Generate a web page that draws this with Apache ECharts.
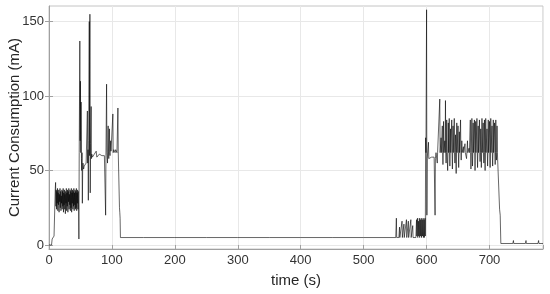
<!DOCTYPE html>
<html>
<head>
<meta charset="utf-8">
<script src="https://cdn.jsdelivr.net/npm/echarts@6/dist/echarts.min.js"></script>
<style>
html, body { margin: 0; padding: 0; background: #fff; }
#chart { width: 550px; height: 294px; }
</style>
</head>
<body>
<div id="chart"></div>
<script>
// [time (s), current (mA)], one list per phase
const wakeUp = [
    [0, 0], [4, 0], [5, 4], [7, 5], [8, 6], [9, 5], [10, 38], [10.5, 42]
];
const firstBurst = [
    [11, 26], [11.5, 37], [12, 24], [12.5, 36], [13, 28], [13.5, 38], [14, 23], [14.5, 35],
    [15, 27], [15.5, 37], [16, 22], [16.5, 34], [17, 29], [17.5, 38], [18, 25], [18.5, 36],
    [19, 23], [19.5, 33], [20, 28], [20.5, 37], [21, 24], [21.5, 36], [22, 26], [22.5, 38],
    [23, 22], [23.5, 35], [24, 27], [24.5, 37], [25, 24], [25.5, 34], [26, 21], [26.5, 36],
    [27, 28], [27.5, 38], [28, 23], [28.5, 35], [29, 26], [29.5, 37], [30, 22], [30.5, 36],
    [31, 29], [31.5, 38], [32, 24], [32.5, 34], [33, 27], [33.5, 37], [34, 23], [34.5, 36],
    [35, 25], [35.5, 38], [36, 22], [36.5, 35], [37, 28], [37.5, 37], [38, 24], [38.5, 36],
    [39, 26], [39.5, 38], [40, 23], [40.5, 35], [41, 27], [41.5, 37], [42, 24], [42.5, 36],
    [43, 25], [43.5, 38], [44, 23], [44.5, 35], [45, 28], [45.5, 37], [46, 24], [46.5, 36],
    [47, 27]
];
const firstActive = [
    [47.5, 4], [48, 62], [49, 137], [49.5, 70], [50, 110], [50.5, 62], [51, 96], [51.5, 58],
    [52, 50], [52.5, 62], [53, 28], [53.5, 50], [54, 55], [55, 51], [56, 53], [57, 54],
    [58, 52], [59, 55], [60, 54], [61, 90], [61.5, 55], [62, 64], [62.5, 30], [63, 70],
    [64, 150], [64.5, 60], [65, 155], [65.5, 35], [66, 68], [67, 93], [67.5, 58], [68, 61],
    [69, 59], [70, 60], [72, 61], [74, 60], [75, 63], [76, 59], [78, 60], [80, 61],
    [82, 60], [84, 60], [86, 61], [88, 60], [89, 59], [90, 20], [90.5, 60], [91.5, 108],
    [92, 62], [93, 55], [94, 80], [94.5, 63], [95, 58], [96, 78], [96.5, 62], [97, 60],
    [98, 70], [98.5, 63], [99, 62], [100, 64], [101, 63], [101.5, 88], [102, 62], [103, 64],
    [104, 63], [105, 62], [106, 64], [107, 63], [108, 62], [109.5, 92], [110, 63], [111, 62],
    [112, 25], [112.5, 22], [113, 18], [113.5, 5], [115, 5]
];
const standby = [
    [150, 5], [200, 5], [250, 5], [300, 5], [350, 5], [400, 5], [450, 5], [500, 5],
    [551, 5], [552, 18], [552.5, 5], [556, 5], [557, 12], [557.5, 5], [560, 5], [561, 16],
    [561.5, 5], [563, 5], [564, 14], [564.5, 5], [567, 5], [568, 17], [568.5, 5], [570, 5],
    [571, 16], [571.5, 5], [574, 5], [575, 17], [575.5, 5], [577, 5], [578, 13], [578.5, 5],
    [583, 5], [584, 17], [584.5, 6], [585.5, 18], [586, 5], [587, 16], [587.5, 6], [588.5, 18],
    [589, 5], [590, 17], [590.5, 6], [591.5, 18], [592, 5], [593, 17], [593.5, 6], [594.5, 18],
    [595, 5], [596, 17], [596.5, 5], [597.5, 18], [598, 6]
];
const secondActive = [
    [598.5, 72], [599, 62], [600, 158], [600.5, 20], [601, 58], [602, 59], [603, 69], [603.5, 58],
    [604, 59], [606, 58], [608, 59], [610, 58], [612, 59], [613, 58], [613.5, 20], [614, 58],
    [615, 62], [616, 61], [617, 55], [617.5, 62], [619, 63], [620, 62], [621, 98], [621.5, 62],
    [622.5, 61], [623, 72], [623.5, 62], [624.5, 63], [625, 80], [625.5, 62], [626, 54], [626.5, 62],
    [627, 83], [627.5, 62], [628.5, 61], [629, 70], [629.5, 62], [630, 97], [630.5, 62], [631, 55],
    [631.5, 62], [632, 84], [632.5, 62], [633.5, 50], [634, 62], [634.5, 82], [635, 62], [636, 85],
    [636.5, 62], [637, 53], [637.5, 62], [638, 78], [638.5, 62], [639.5, 63], [640, 84], [640.5, 62],
    [641, 51], [641.5, 62], [642, 80], [642.5, 62], [643.5, 62], [644, 85], [644.5, 62], [645, 55],
    [645.5, 62], [646, 74], [646.5, 62], [647, 48], [647.5, 62], [648, 82], [648.5, 62], [649.5, 61],
    [650, 80], [650.5, 62], [651, 52], [651.5, 62], [652, 76], [652.5, 62], [653.5, 63], [654, 84],
    [654.5, 62], [655, 57], [655.5, 62], [656, 70], [656.5, 62], [658, 62], [658.5, 66], [659, 62],
    [660.5, 62], [661, 68], [661.5, 62], [663, 62], [663.5, 58], [664, 62], [665, 70], [665.5, 62],
    [667, 62], [667.5, 65], [668, 62], [669, 62], [669.5, 84], [670, 62], [670.5, 51], [671, 62],
    [672, 85], [672.5, 62], [673, 53], [673.5, 62], [674, 82], [674.5, 62], [675.5, 62], [676, 84],
    [676.5, 62], [677, 50], [677.5, 62], [678, 83], [678.5, 62], [679.5, 62], [680, 85], [680.5, 62],
    [681, 52], [681.5, 62], [682, 80], [682.5, 62], [683.5, 62], [684, 84], [684.5, 62], [685, 56],
    [685.5, 62], [686, 78], [686.5, 62], [687, 52], [687.5, 62], [688, 85], [688.5, 62], [689.5, 62],
    [690, 82], [690.5, 62], [691, 55], [691.5, 62], [692, 84], [692.5, 62], [693, 50], [693.5, 62],
    [694, 85], [694.5, 62], [695.5, 62], [696, 78], [696.5, 62], [697, 53], [697.5, 62], [698, 84],
    [698.5, 62], [699.5, 62], [700, 83], [700.5, 62], [701, 52], [701.5, 62], [702, 85], [702.5, 62],
    [703.5, 62], [704, 80], [704.5, 62], [705, 53], [705.5, 62], [706, 84], [706.5, 62], [707.5, 62],
    [708, 82], [708.5, 62], [709, 54], [709.5, 62], [710, 84], [710.5, 62], [711, 57], [711.5, 62],
    [712, 80], [712.5, 62], [714, 62]
];
const shutDown = [
    [716, 24], [717, 20], [718, 1], [737, 1], [738, 3], [738.5, 1], [757, 1], [758, 3],
    [758.5, 1], [777, 1], [778, 3], [778.5, 1], [785, 1]
];
const yTicks = [0, 50, 100, 150];

const font = 'Liberation Sans, Arial, sans-serif';
const axisGray = '#a0a0a0';
const trace = [].concat(wakeUp, firstBurst, firstActive, standby, secondActive, shutDown);

const chart = echarts.init(document.getElementById('chart'));
chart.setOption({
    animation: false,
    grid: {
        left: 49, right: 7, top: 6, bottom: 45,
        outerBoundsMode: 'none',
        show: true, borderColor: '#c4c4c4', borderWidth: 1
    },
    xAxis: [{
        type: 'value', min: 0, max: 785, interval: 100,
        name: 'time (s)', nameLocation: 'middle', nameGap: 24,
        nameTextStyle: { fontSize: 15, color: '#262626', fontFamily: font },
        axisLine: { show: true, onZero: false, lineStyle: { color: axisGray } },
        axisTick: { show: true, inside: true, length: 4, lineStyle: { color: axisGray } },
        axisLabel: { fontSize: 13, color: '#333', margin: 5, fontFamily: font, showMaxLabel: false },
        splitLine: { show: true, lineStyle: { color: '#e8e8e8' } }
    }, {
        type: 'value', position: 'top', min: 0, max: 785, interval: 100,
        axisLine: { show: false },
        axisTick: { show: true, inside: true, length: 4, lineStyle: { color: axisGray } },
        axisLabel: { show: false },
        splitLine: { show: false }
    }],
    yAxis: [{
        type: 'value', min: -2.7, max: 160.5,
        name: 'Current Consumption (mA)', nameLocation: 'middle', nameGap: 27,
        nameMoveOverlap: false,
        nameTextStyle: { fontSize: 15, color: '#262626', fontFamily: font },
        axisLine: { show: true, onZero: false, lineStyle: { color: axisGray } },
        axisTick: { show: true, inside: true, length: 4, customValues: yTicks, lineStyle: { color: axisGray } },
        axisLabel: { fontSize: 13, color: '#333', margin: 5, fontFamily: font, customValues: yTicks },
        splitLine: { show: true, lineStyle: { color: '#e8e8e8' } }
    }, {
        type: 'value', position: 'right', min: -2.7, max: 160.5,
        axisLine: { show: false },
        axisTick: { show: true, inside: true, length: 4, customValues: yTicks, lineStyle: { color: axisGray } },
        axisLabel: { show: false, customValues: yTicks },
        splitLine: { show: false }
    }],
    series: [{
        type: 'line',
        xAxisIndex: 0,
        yAxisIndex: 0,
        showSymbol: false,
        symbol: 'none',
        lineStyle: { color: '#000', width: 0.6 },
        data: trace
    }]
});
</script>
</body>
</html>
